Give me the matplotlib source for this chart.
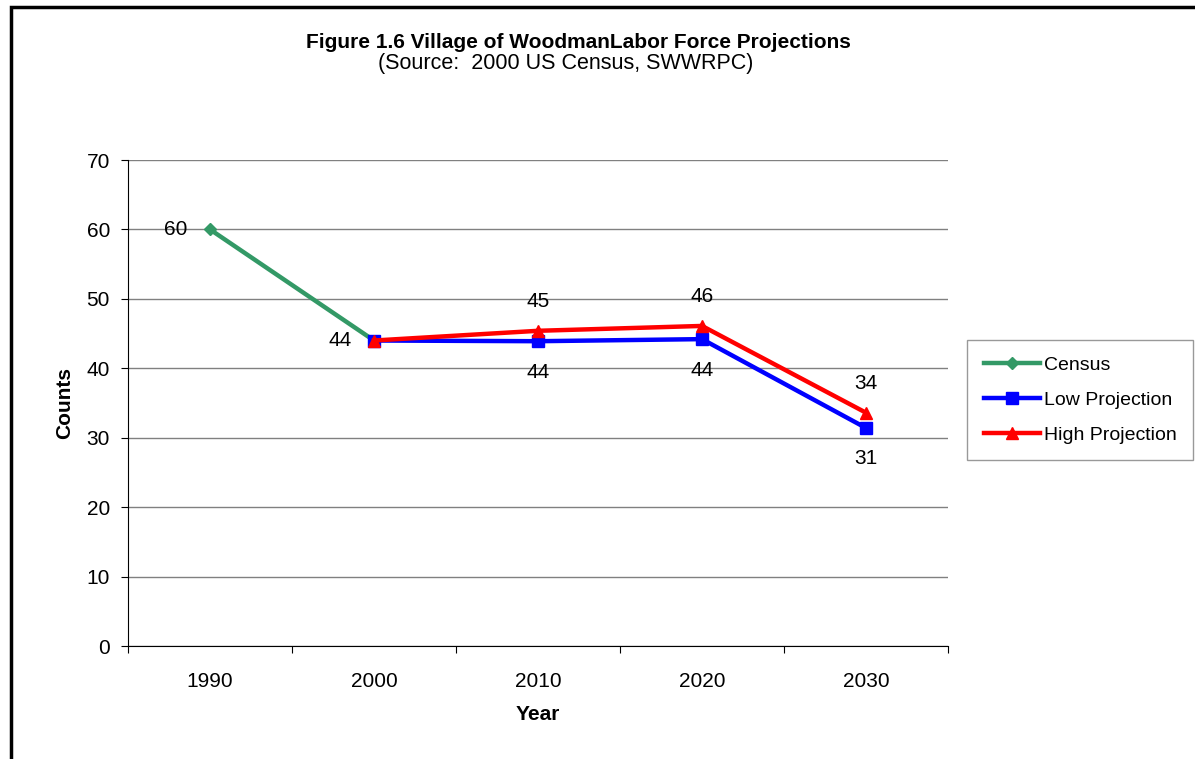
import matplotlib
matplotlib.use("Agg")
import matplotlib.pyplot as plt
from matplotlib.patches import Rectangle

years = ["1990", "2000", "2010", "2020", "2030"]
census = [60, 44, None, None, None]
low_proj = [None, 44, 43.9, 44.2, 31.4]
high_proj = [None, 44, 45.4, 46.1, 33.6]
census_labels = ["60", "44", "", "", ""]
low_labels = ["", "", "44", "44", "31"]
high_labels = ["", "", "45", "46", "34"]

plt.rc("font", family=["Liberation Sans", "DejaVu Sans"])

W, H = 1195, 759
fig = plt.figure(figsize=(W / 100, H / 100), dpi=100)

# outer border (cut off at right and bottom like the reference)
fig.patches.append(Rectangle((11 / W, -0.1), 1.2, 1 - 7 / H + 0.1, transform=fig.transFigure,
                             fill=False, edgecolor="black", linewidth=2.5))

ax = fig.add_axes([128 / W, 1 - 646 / H, (948 - 128) / W, (646 - 160) / H])

def series(vals):
    xs = [i for i, v in enumerate(vals) if v is not None]
    ys = [v for v in vals if v is not None]
    return xs, ys

x, y = series(census)
ax.plot(x, y, color="#339966", linewidth=3.2, marker="D", markersize=6, label="Census", zorder=3)
x, y = series(low_proj)
ax.plot(x, y, color="#0000ff", linewidth=3.2, marker="s", markersize=8, label="Low Projection", zorder=4)
x, y = series(high_proj)
ax.plot(x, y, color="#ff0000", linewidth=3.2, marker="^", markersize=8, label="High Projection", zorder=5)

fs = 15
for i, t in enumerate(census_labels):
    if t:
        ax.annotate(t, (i, census[i]), xytext=(-34, 0), textcoords="offset pixels",
                    ha="center", va="center", fontsize=fs)
for i, t in enumerate(low_labels):
    if t:
        ax.annotate(t, (i, low_proj[i]), xytext=(0, -31), textcoords="offset pixels",
                    ha="center", va="center", fontsize=fs)
for i, t in enumerate(high_labels):
    if t:
        ax.annotate(t, (i, high_proj[i]), xytext=(0, 29), textcoords="offset pixels",
                    ha="center", va="center", fontsize=fs)

ax.set_xlim(-0.5, len(years) - 0.5)
ax.set_ylim(0, 70)
ax.set_yticks(range(0, 71, 10))
ax.set_xticks([i - 0.5 for i in range(len(years) + 1)])
ax.set_xticklabels([])
ax.set_xticks(range(len(years)), minor=True)
ax.set_xticklabels(years, minor=True)
ax.tick_params(axis="x", which="minor", length=0, pad=19, labelsize=fs)
ax.tick_params(axis="x", which="major", length=5, direction="out", color="black")
ax.tick_params(axis="y", length=5, direction="out", color="black", labelsize=fs, pad=8)

ax.grid(axis="y", color="#808080", linewidth=1)
ax.set_axisbelow(True)
for s in ["top", "right"]:
    ax.spines[s].set_visible(False)
for s in ["left", "bottom"]:
    ax.spines[s].set_color("black")

ax.set_ylabel("Counts", fontsize=fs, fontweight="bold", labelpad=9)
ax.set_xlabel("Year", fontsize=fs, fontweight="bold", labelpad=10)

fig.text(578 / W, 1 - 42 / H, "Figure 1.6 Village of WoodmanLabor Force Projections",
         ha="center", va="center", fontsize=15, fontweight="bold")
fig.text(566 / W, 1 - 64 / H, "(Source:  2000 US Census, SWWRPC)",
         ha="center", va="center", fontsize=15.5)

leg = fig.legend(loc="center left", bbox_to_anchor=(967 / W, 1 - 400 / H), fontsize=14,
                 frameon=True, fancybox=False, edgecolor="#808080", labelspacing=0.88,
                 handlelength=2.9, handletextpad=0.2, borderpad=0.85, borderaxespad=0)
leg.get_frame().set_linewidth(1)

fig.savefig("out.png", dpi=100)
plt.close()
